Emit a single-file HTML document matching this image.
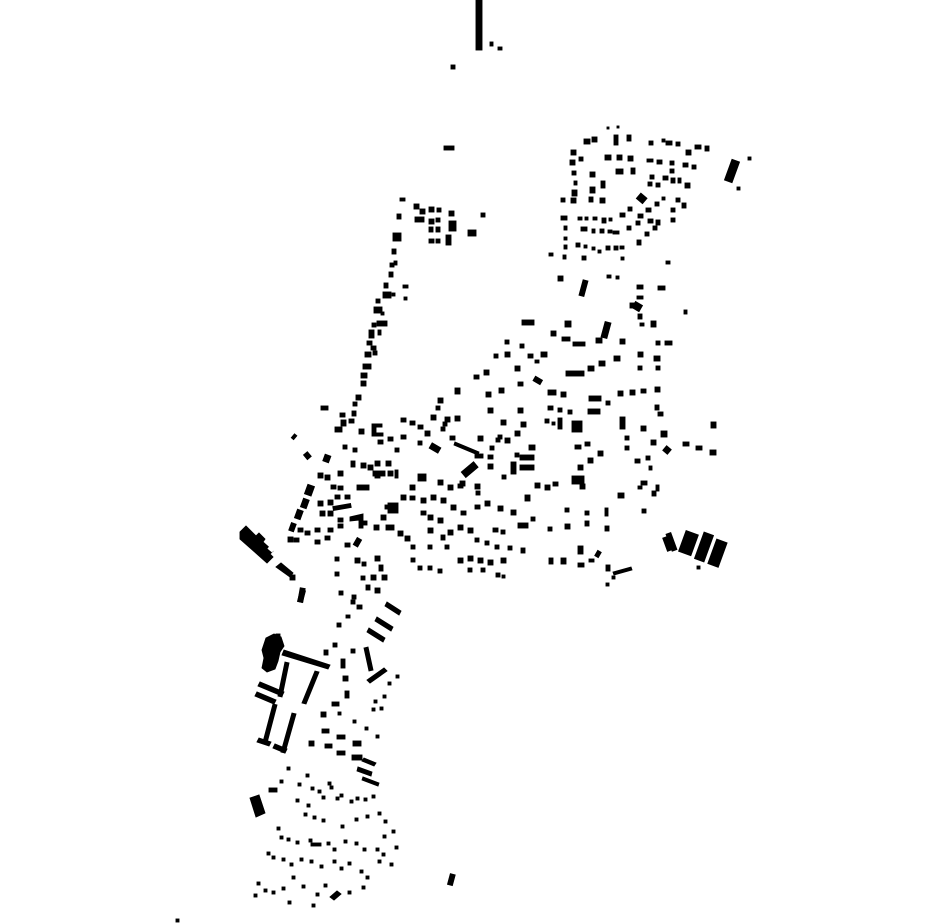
<!DOCTYPE html>
<html><head><meta charset="utf-8"><style>html,body{margin:0;padding:0;background:#fff;width:930px;height:924px;overflow:hidden}svg{display:block}</style></head>
<body>
<svg width="930" height="924" viewBox="0 0 930 924" xmlns="http://www.w3.org/2000/svg">
<g fill="#000" stroke="#000" stroke-width="0.9">
<rect x="476" y="0" width="6" height="50"/>
<rect x="490" y="42" width="3" height="4"/><rect x="498" y="47" width="4" height="3"/>
<rect x="451" y="65" width="4" height="4"/>
<rect x="444" y="146" width="10" height="4"/>
<rect x="481" y="213" width="4" height="4"/>
<rect x="400" y="198" width="5" height="3"/><rect x="397" y="214" width="4" height="5"/>
<rect x="414" y="204" width="5" height="5"/><rect x="420" y="209" width="5" height="5"/><rect x="429" y="207" width="5" height="5"/><rect x="437" y="208" width="4" height="4"/><rect x="449" y="211" width="5" height="5"/>
<rect x="415" y="217" width="9" height="5"/><rect x="429" y="219" width="5" height="5"/><rect x="436" y="218" width="4" height="4"/><rect x="429" y="227" width="4" height="5"/><rect x="436" y="227" width="4" height="5"/><rect x="449" y="221" width="7" height="10"/>
<rect x="429" y="239" width="5" height="4"/><rect x="436" y="239" width="4" height="4"/><rect x="446" y="235" width="5" height="10"/><rect x="468" y="230" width="8" height="6"/>
<rect x="393" y="233" width="8" height="8"/><rect x="392" y="249" width="4" height="5"/><rect x="394" y="261" width="3" height="4"/><rect x="390" y="263" width="4" height="4"/><rect x="389" y="272" width="4" height="5"/><rect x="384" y="283" width="4" height="5"/><rect x="403" y="285" width="5" height="3"/>
<rect x="383" y="292" width="8" height="6"/><rect x="392" y="293" width="3" height="3"/><rect x="404" y="297" width="3" height="3"/><rect x="376" y="299" width="4" height="4"/><rect x="374" y="307" width="8" height="6"/><rect x="381" y="312" width="3" height="3"/>
<rect x="377" y="321" width="10" height="5"/><rect x="372" y="323" width="4" height="4"/><rect x="369" y="330" width="5" height="8"/><rect x="378" y="330" width="3" height="5"/>
<rect x="367" y="341" width="5" height="4"/><rect x="371" y="346" width="5" height="4"/><rect x="365" y="352" width="6" height="5"/><rect x="373" y="351" width="4" height="4"/>
<rect x="363" y="364" width="8" height="5"/><rect x="361" y="373" width="6" height="5"/><rect x="361" y="381" width="5" height="5"/><rect x="356" y="395" width="5" height="5"/><rect x="353" y="402" width="4" height="4"/><rect x="352" y="411" width="4" height="5"/>
<rect x="321" y="406" width="7" height="4"/><rect x="340" y="413" width="5" height="4"/><rect x="341" y="420" width="5" height="6"/><rect x="349" y="419" width="5" height="4"/><rect x="335" y="427" width="7" height="5"/><rect x="359" y="429" width="5" height="5"/>
<path d="M372 424h10v3h-6v6h7v3h-11z"/>
<rect x="293" y="434" width="3" height="5" transform="rotate(40 294 436)"/>
<rect x="584" y="139" width="6" height="5"/><rect x="592" y="137" width="5" height="5"/><rect x="614" y="135" width="4" height="10"/><rect x="627" y="135" width="4" height="6"/><rect x="607" y="127" width="2" height="2"/><rect x="617" y="126" width="2" height="2"/>
<rect x="571" y="150" width="5" height="5"/><rect x="570" y="160" width="5" height="5"/><rect x="579" y="157" width="4" height="4"/><rect x="605" y="155" width="6" height="5"/><rect x="617" y="155" width="5" height="5"/><rect x="628" y="156" width="5" height="5"/>
<rect x="616" y="169" width="7" height="5"/><rect x="631" y="168" width="4" height="6"/><rect x="572" y="171" width="4" height="4"/><rect x="590" y="172" width="5" height="5"/><rect x="574" y="181" width="3" height="4"/><rect x="601" y="181" width="4" height="7"/><rect x="590" y="187" width="5" height="6"/><rect x="572" y="190" width="5" height="6"/>
<rect x="561" y="198" width="4" height="4"/><rect x="571" y="198" width="5" height="5"/><rect x="589" y="197" width="4" height="5"/><rect x="600" y="198" width="5" height="5"/><rect x="638" y="195" width="8" height="7" transform="rotate(40 642 198)"/>
<rect x="628" y="207" width="4" height="4"/><rect x="620" y="213" width="5" height="4"/><rect x="638" y="214" width="5" height="4"/><rect x="646" y="208" width="5" height="4"/><rect x="655" y="202" width="4" height="4"/>
<rect x="627" y="226" width="4" height="4"/><rect x="636" y="221" width="4" height="4"/><rect x="648" y="219" width="5" height="4"/><rect x="656" y="220" width="4" height="5"/><rect x="637" y="240" width="4" height="5"/><rect x="645" y="232" width="4" height="4"/><rect x="653" y="226" width="4" height="4"/>
<rect x="561" y="216" width="6" height="4"/><rect x="578" y="217" width="4" height="3"/><rect x="585" y="217" width="3" height="3"/><rect x="593" y="217" width="4" height="3"/><rect x="602" y="218" width="4" height="5"/><rect x="609" y="218" width="3" height="3"/>
<rect x="564" y="226" width="3" height="4"/><rect x="581" y="227" width="6" height="4"/><rect x="592" y="229" width="3" height="4"/><rect x="600" y="229" width="4" height="4"/><rect x="608" y="230" width="4" height="3"/><rect x="613" y="231" width="6" height="3"/>
<rect x="564" y="237" width="3" height="3"/><rect x="564" y="245" width="3" height="4"/><rect x="576" y="243" width="4" height="4"/><rect x="584" y="245" width="3" height="3"/><rect x="592" y="247" width="3" height="3"/><rect x="598" y="250" width="3" height="3"/><rect x="606" y="246" width="4" height="4"/><rect x="614" y="246" width="4" height="4"/><rect x="620" y="246" width="4" height="3"/>
<rect x="549" y="253" width="4" height="3"/><rect x="563" y="255" width="3" height="4"/><rect x="582" y="256" width="4" height="4"/><rect x="621" y="257" width="3" height="3"/>
<rect x="558" y="276" width="5" height="5"/><rect x="581" y="280" width="5" height="16" transform="rotate(15 583 288)"/><rect x="607" y="275" width="4" height="3"/><rect x="616" y="276" width="3" height="3"/>
<rect x="637" y="285" width="6" height="4"/><rect x="658" y="286" width="7" height="4"/><rect x="637" y="296" width="6" height="3"/><rect x="633" y="303" width="8" height="7" transform="rotate(30 637 307)"/><rect x="638" y="314" width="4" height="5"/><rect x="666" y="261" width="4" height="3"/><rect x="684" y="310" width="3" height="4"/>
<rect x="649" y="141" width="4" height="4"/><rect x="662" y="139" width="3" height="3"/><rect x="666" y="141" width="6" height="4"/><rect x="676" y="142" width="4" height="4"/><rect x="686" y="150" width="5" height="5"/><rect x="695" y="145" width="6" height="4"/><rect x="705" y="146" width="4" height="5"/>
<rect x="647" y="159" width="6" height="3"/><rect x="657" y="160" width="5" height="4"/><rect x="670" y="161" width="4" height="4"/><rect x="683" y="163" width="5" height="4"/><rect x="692" y="165" width="4" height="4"/><rect x="670" y="169" width="4" height="4"/>
<rect x="650" y="175" width="4" height="4"/><rect x="648" y="182" width="4" height="4"/><rect x="656" y="183" width="4" height="4"/><rect x="663" y="176" width="5" height="4"/><rect x="671" y="178" width="4" height="5"/><rect x="678" y="178" width="3" height="5"/><rect x="685" y="183" width="5" height="5"/>
<rect x="676" y="198" width="4" height="4"/><rect x="682" y="203" width="4" height="5"/><rect x="671" y="208" width="4" height="4"/><rect x="671" y="218" width="4" height="4"/><rect x="662" y="197" width="3" height="3"/>
<rect x="728" y="160" width="8" height="22" transform="rotate(20 732 171)"/><rect x="737" y="187" width="3" height="3"/><rect x="748" y="157" width="3" height="3"/>
<g>
<rect x="630" y="303" width="6" height="5"/><rect x="522" y="320" width="12" height="5"/><rect x="565" y="321" width="6" height="6"/><rect x="603" y="322" width="6" height="16" transform="rotate(15 606 330)"/><rect x="651" y="321" width="5" height="6"/><rect x="640" y="323" width="4" height="3"/>
<rect x="551" y="331" width="5" height="5"/><rect x="562" y="337" width="8" height="4"/><rect x="573" y="342" width="12" height="4"/><rect x="596" y="338" width="6" height="5"/><rect x="620" y="339" width="5" height="5"/><rect x="665" y="341" width="7" height="4"/><rect x="656" y="341" width="4" height="4"/>
<rect x="505" y="340" width="4" height="4"/><rect x="520" y="344" width="4" height="4"/><rect x="505" y="352" width="5" height="5"/><rect x="528" y="354" width="5" height="4"/><rect x="541" y="352" width="6" height="5"/><rect x="494" y="354" width="4" height="4"/><rect x="535" y="360" width="4" height="3"/>
<rect x="566" y="371" width="18" height="5"/><rect x="588" y="366" width="6" height="5"/><rect x="599" y="361" width="6" height="5"/><rect x="614" y="356" width="6" height="5"/><rect x="638" y="352" width="5" height="5"/><rect x="654" y="356" width="6" height="5"/><rect x="656" y="366" width="4" height="4"/><rect x="638" y="366" width="4" height="4"/>
<rect x="515" y="366" width="5" height="5"/><rect x="484" y="370" width="5" height="5"/><rect x="474" y="375" width="5" height="4"/><rect x="455" y="388" width="5" height="6"/><rect x="486" y="392" width="5" height="5"/><rect x="499" y="388" width="5" height="5"/><rect x="518" y="382" width="5" height="4"/><rect x="534" y="378" width="8" height="5" transform="rotate(30 538 380)"/>
<rect x="548" y="390" width="8" height="5"/><rect x="561" y="392" width="5" height="5"/><rect x="589" y="396" width="12" height="5"/><rect x="588" y="409" width="12" height="5"/><rect x="606" y="401" width="4" height="4"/><rect x="618" y="391" width="5" height="5"/><rect x="630" y="390" width="5" height="5"/><rect x="641" y="389" width="5" height="4"/><rect x="655" y="387" width="5" height="5"/><rect x="655" y="405" width="4" height="5"/><rect x="658" y="412" width="5" height="4"/>
<rect x="620" y="417" width="5" height="12"/><rect x="641" y="426" width="5" height="5"/><rect x="661" y="431" width="6" height="6"/><rect x="711" y="422" width="5" height="6"/><rect x="683" y="442" width="6" height="4"/><rect x="696" y="446" width="6" height="4"/><rect x="710" y="450" width="6" height="5"/><rect x="651" y="440" width="5" height="5"/><rect x="664" y="447" width="6" height="6" transform="rotate(40 667 450)"/>
<rect x="625" y="436" width="4" height="4"/><rect x="625" y="446" width="4" height="4"/><rect x="635" y="459" width="5" height="4"/><rect x="646" y="456" width="4" height="4"/><rect x="649" y="466" width="3" height="4"/><rect x="641" y="481" width="6" height="4"/><rect x="652" y="491" width="4" height="5"/><rect x="642" y="509" width="4" height="4"/><rect x="618" y="493" width="6" height="5"/><rect x="638" y="486" width="4" height="3"/><rect x="656" y="485" width="3" height="6"/>
<rect x="548" y="406" width="5" height="4"/><rect x="558" y="408" width="4" height="4"/><rect x="568" y="410" width="4" height="4"/><rect x="545" y="419" width="4" height="4"/><rect x="558" y="418" width="4" height="11"/><rect x="572" y="421" width="10" height="11"/><rect x="552" y="422" width="3" height="3"/>
<rect x="488" y="408" width="5" height="5"/><rect x="501" y="420" width="5" height="5"/><rect x="518" y="408" width="5" height="5"/><rect x="521" y="422" width="5" height="5"/><rect x="505" y="438" width="5" height="5"/><rect x="515" y="431" width="5" height="5"/><rect x="478" y="436" width="5" height="5"/><rect x="490" y="446" width="4" height="4"/><rect x="496" y="438" width="4" height="4"/>
<rect x="438" y="398" width="5" height="5"/><rect x="436" y="406" width="4" height="4"/><rect x="431" y="415" width="5" height="5"/><rect x="445" y="417" width="5" height="5"/><rect x="455" y="416" width="5" height="5"/><rect x="443" y="422" width="4" height="4"/><rect x="441" y="427" width="4" height="4"/><rect x="450" y="436" width="5" height="4"/>
<path d="M455 442l24 10-1 3-24-10z"/><rect x="475" y="454" width="8" height="4"/><rect x="488" y="455" width="5" height="4"/><rect x="430" y="445" width="10" height="6" transform="rotate(30 435 448)"/>
<rect x="401" y="418" width="5" height="4"/><rect x="410" y="421" width="5" height="4"/><rect x="418" y="425" width="5" height="4"/><rect x="425" y="431" width="5" height="5"/><rect x="401" y="435" width="5" height="4"/><rect x="388" y="437" width="5" height="4"/><rect x="378" y="440" width="5" height="4"/><rect x="395" y="448" width="4" height="4"/><rect x="418" y="441" width="4" height="4"/>
<rect x="529" y="445" width="6" height="5"/><rect x="520" y="455" width="14" height="5"/><rect x="520" y="465" width="14" height="5"/><rect x="511" y="462" width="5" height="12"/><rect x="515" y="453" width="4" height="4"/><rect x="498" y="435" width="4" height="4"/><rect x="488" y="464" width="5" height="5"/><rect x="502" y="475" width="4" height="4"/>
<rect x="462" y="466" width="16" height="7" transform="rotate(-40 470 470)"/><rect x="460" y="481" width="5" height="5"/><rect x="438" y="480" width="5" height="5"/><rect x="448" y="485" width="5" height="5"/><rect x="458" y="484" width="5" height="4"/><rect x="475" y="484" width="5" height="5"/><rect x="476" y="491" width="4" height="4"/>
<rect x="418" y="474" width="8" height="7"/><rect x="410" y="485" width="5" height="5"/><rect x="421" y="498" width="5" height="5"/><rect x="410" y="496" width="5" height="4"/><rect x="401" y="495" width="5" height="5"/><rect x="388" y="503" width="10" height="10"/><rect x="421" y="511" width="5" height="4"/><rect x="431" y="495" width="5" height="5"/><rect x="441" y="498" width="5" height="5"/><rect x="451" y="505" width="5" height="5"/><rect x="461" y="511" width="5" height="4"/><rect x="475" y="505" width="5" height="4"/><rect x="485" y="501" width="5" height="5"/><rect x="498" y="506" width="5" height="5"/><rect x="511" y="510" width="5" height="5"/><rect x="525" y="495" width="5" height="6"/><rect x="535" y="483" width="5" height="5"/><rect x="545" y="485" width="5" height="5"/><rect x="553" y="482" width="5" height="4"/>
<rect x="572" y="476" width="12" height="8"/><rect x="580" y="484" width="5" height="5"/><rect x="578" y="465" width="5" height="5"/><rect x="588" y="458" width="5" height="5"/><rect x="598" y="451" width="5" height="5"/><rect x="575" y="445" width="6" height="4"/><rect x="585" y="442" width="5" height="4"/><rect x="565" y="508" width="4" height="4"/><rect x="585" y="511" width="4" height="4"/><rect x="605" y="508" width="3" height="8"/>
<rect x="518" y="523" width="10" height="5"/><rect x="531" y="517" width="4" height="4"/><rect x="548" y="527" width="4" height="4"/><rect x="565" y="524" width="5" height="5"/><rect x="585" y="521" width="4" height="5"/><rect x="605" y="526" width="4" height="5"/><rect x="578" y="546" width="5" height="8"/><rect x="596" y="551" width="4" height="6" transform="rotate(30 598 554)"/><rect x="589" y="559" width="5" height="3"/><rect x="549" y="558" width="4" height="6"/><rect x="561" y="558" width="5" height="6"/><rect x="578" y="563" width="6" height="4"/>
<rect x="606" y="565" width="4" height="6"/><path d="M613 572l18-5 1 3-18 5z"/><rect x="612" y="576" width="3" height="3"/><rect x="606" y="583" width="3" height="3"/>
<rect x="493" y="528" width="5" height="4"/><rect x="501" y="530" width="4" height="4"/><rect x="485" y="541" width="4" height="4"/><rect x="495" y="545" width="4" height="4"/><rect x="508" y="546" width="4" height="4"/><rect x="521" y="548" width="4" height="5"/>
<rect x="458" y="558" width="5" height="5"/><rect x="468" y="556" width="5" height="5"/><rect x="478" y="558" width="5" height="5"/><rect x="488" y="560" width="5" height="5"/><rect x="501" y="558" width="5" height="5"/><rect x="468" y="568" width="4" height="4"/><rect x="481" y="568" width="4" height="4"/><rect x="496" y="573" width="4" height="4"/><rect x="502" y="575" width="3" height="3"/>
<rect x="428" y="515" width="5" height="5"/><rect x="438" y="518" width="5" height="5"/><rect x="428" y="528" width="5" height="5"/><rect x="441" y="535" width="4" height="5"/><rect x="448" y="530" width="5" height="5"/><rect x="458" y="525" width="5" height="5"/><rect x="468" y="528" width="5" height="5"/><rect x="475" y="538" width="4" height="4"/><rect x="445" y="545" width="4" height="4"/><rect x="428" y="545" width="4" height="4"/>
<rect x="398" y="531" width="5" height="5"/><rect x="405" y="536" width="5" height="5"/><rect x="411" y="545" width="4" height="4"/><rect x="386" y="525" width="8" height="5"/><rect x="374" y="525" width="5" height="5"/><rect x="381" y="515" width="5" height="5"/><rect x="385" y="505" width="4" height="4"/><rect x="411" y="558" width="4" height="4"/><rect x="418" y="566" width="4" height="4"/><rect x="428" y="566" width="4" height="4"/><rect x="438" y="569" width="4" height="4"/>
<rect x="355" y="558" width="5" height="5"/><rect x="362" y="562" width="4" height="4"/><rect x="375" y="556" width="5" height="5"/><rect x="379" y="565" width="4" height="6"/><rect x="382" y="575" width="5" height="5"/><rect x="371" y="575" width="5" height="5"/><rect x="361" y="576" width="4" height="4"/><rect x="366" y="585" width="4" height="5"/><rect x="375" y="588" width="5" height="5"/><rect x="339" y="591" width="4" height="4"/><rect x="352" y="595" width="4" height="4"/><rect x="335" y="572" width="4" height="4"/><rect x="335" y="557" width="4" height="4"/>
<rect x="355" y="538" width="5" height="8" transform="rotate(30 357 542)"/><rect x="345" y="543" width="5" height="4"/><rect x="325" y="536" width="5" height="4"/><rect x="315" y="540" width="5" height="4"/><rect x="305" y="531" width="5" height="4"/><rect x="298" y="528" width="5" height="4"/><rect x="294" y="538" width="5" height="4"/><rect x="315" y="528" width="5" height="4"/><rect x="328" y="528" width="5" height="4"/><rect x="338" y="524" width="5" height="4"/>
<path d="M350 517l13-3v14h-4v-8l-9 1z"/><rect x="363" y="521" width="4" height="4"/><rect x="338" y="518" width="5" height="4"/><rect x="328" y="511" width="5" height="5"/><rect x="320" y="511" width="5" height="5"/><rect x="318" y="501" width="5" height="5"/><rect x="328" y="500" width="5" height="5"/><rect x="335" y="495" width="5" height="4"/><rect x="345" y="495" width="5" height="4"/><rect x="357" y="485" width="12" height="5"/><rect x="338" y="486" width="5" height="4"/><rect x="331" y="485" width="5" height="4"/>
<rect x="338" y="471" width="5" height="5"/><rect x="325" y="475" width="5" height="5"/><rect x="318" y="473" width="5" height="5"/><rect x="306" y="485" width="7" height="10" transform="rotate(20 309 490)"/><rect x="302" y="499" width="6" height="9" transform="rotate(20 305 503)"/><rect x="296" y="510" width="6" height="9" transform="rotate(20 299 514)"/><rect x="290" y="523" width="5" height="8" transform="rotate(20 292 527)"/><rect x="288" y="537" width="5" height="5"/>
<rect x="324" y="455" width="6" height="7" transform="rotate(20 327 458)"/><rect x="305" y="453" width="5" height="6" transform="rotate(-40 307 456)"/><rect x="361" y="463" width="5" height="5"/><rect x="368" y="465" width="5" height="5"/><rect x="375" y="473" width="5" height="5"/><rect x="386" y="461" width="5" height="5"/><rect x="388" y="471" width="5" height="5"/><rect x="375" y="461" width="5" height="5"/><rect x="351" y="461" width="4" height="6"/>
<rect x="373" y="471" width="12" height="5"/><rect x="343" y="445" width="4" height="4"/><rect x="353" y="448" width="4" height="4"/>
<rect x="333" y="505" width="18" height="4" transform="rotate(-10 342 507)"/><rect x="395" y="470" width="3" height="8"/>
</g>
<path d="M240 532l6-6 10 10 3-3 6 6-2 3 10 9-3 3 3 3-6 6-27-24z"/><rect x="268" y="547" width="6" height="4" fill="#fff" stroke="none" transform="rotate(40 271 549)"/>
<path d="M276 567l5-4 12 10-3 4z"/><rect x="290" y="575" width="5" height="5"/><rect x="299" y="588" width="5" height="14" transform="rotate(10 301 595)"/>
<rect x="665" y="537" width="5" height="14" transform="rotate(-20 667 544)"/><rect x="669" y="533" width="5" height="18" transform="rotate(-20 671 542)"/>
<rect x="682" y="532" width="13" height="22" transform="rotate(20 688 543)"/><rect x="699" y="533" width="10" height="28" transform="rotate(20 704 547)"/><rect x="712" y="540" width="11" height="26" transform="rotate(20 717 553)"/><rect x="697" y="566" width="3" height="3"/>
<rect x="299" y="590" width="5" height="12" transform="rotate(15 301 596)"/>
<path d="M385 606l2-4 14 9-2 4z"/><path d="M375 621l2-4 16 10-2 4z"/><path d="M367 632l2-4 16 10-2 4z"/><path d="M364 648l4-1 5 23-4 1z"/><path d="M370 683l-3-3 17-12 3 3z"/>
<path d="M266 638l8-4 7 3 3 9 -4 6 -2 9 -3 8-8 3-5-4 2-10-2-8z"/><path d="M282 655l2-5 46 15-2 4z"/><rect x="276" y="634" width="4" height="3"/>
<path d="M285 662l4 1-7 34-4-1z"/><path d="M315 671l4 1-13 32-4-1z"/><path d="M258 686l2-4 24 10-2 4z"/>
<path d="M255 696l2-4 19 8-2 4z"/><path d="M273 704l4 1-10 38-4-1z"/><path d="M257 742l2-4 12 4-2 4z"/>
<path d="M292 713l4 1-11 39-4-1z"/><path d="M273 748l2-4 12 5-2 4z"/>
<rect x="337" y="623" width="4" height="4"/><rect x="324" y="650" width="4" height="5"/><rect x="333" y="643" width="4" height="4"/><rect x="351" y="649" width="4" height="4"/><rect x="346" y="615" width="4" height="3"/><rect x="351" y="600" width="4" height="4"/><rect x="357" y="605" width="5" height="4"/>
<rect x="341" y="659" width="4" height="9"/><rect x="343" y="676" width="5" height="5"/><rect x="345" y="691" width="4" height="7"/><rect x="332" y="702" width="7" height="4"/><rect x="321" y="712" width="5" height="5"/><rect x="322" y="729" width="7" height="4"/><rect x="337" y="735" width="8" height="4"/><rect x="309" y="741" width="5" height="5"/><rect x="325" y="744" width="7" height="4"/><rect x="337" y="751" width="8" height="4"/><rect x="353" y="741" width="8" height="5"/><rect x="352" y="755" width="10" height="5"/>
<path d="M362 761l2-3 12 5-2 3z"/><path d="M357 771l1-4 14 5-1 4z"/><path d="M362 780l1-3 16 6-1 3z"/>
<rect x="269" y="788" width="8" height="4"/><path d="M250 798l9-3 6 18-9 4z"/>
<rect x="338" y="712" width="3" height="3"/><rect x="353" y="720" width="3" height="3"/><rect x="365" y="727" width="3" height="3"/><rect x="376" y="735" width="3" height="3"/><rect x="372" y="708" width="3" height="3"/><rect x="383" y="695" width="3" height="3"/><rect x="380" y="707" width="3" height="3"/><rect x="388" y="682" width="3" height="3"/><rect x="396" y="675" width="3" height="3"/><rect x="374" y="700" width="3" height="3"/>
<rect x="287" y="767" width="3" height="3"/><rect x="280" y="780" width="3" height="3"/><rect x="306" y="774" width="3" height="3"/><rect x="298" y="783" width="3" height="3"/><rect x="311" y="787" width="3" height="3"/><rect x="318" y="790" width="3" height="3"/><rect x="330" y="786" width="3" height="3"/><rect x="336" y="797" width="3" height="3"/><rect x="340" y="794" width="3" height="3"/><rect x="350" y="800" width="3" height="3"/><rect x="356" y="797" width="3" height="3"/><rect x="364" y="798" width="3" height="3"/><rect x="372" y="795" width="3" height="3"/><rect x="328" y="782" width="3" height="3"/><rect x="296" y="799" width="3" height="3"/><rect x="307" y="804" width="3" height="3"/><rect x="322" y="796" width="3" height="3"/>
<rect x="304" y="813" width="3" height="3"/><rect x="313" y="816" width="3" height="3"/><rect x="322" y="819" width="3" height="3"/><rect x="355" y="818" width="3" height="3"/><rect x="366" y="815" width="3" height="3"/><rect x="378" y="812" width="3" height="3"/><rect x="384" y="820" width="3" height="3"/><rect x="341" y="825" width="3" height="3"/><rect x="383" y="835" width="3" height="3"/><rect x="392" y="830" width="3" height="3"/>
<rect x="277" y="827" width="3" height="3"/><rect x="280" y="836" width="3" height="3"/><rect x="287" y="838" width="3" height="3"/><rect x="296" y="841" width="3" height="3"/><rect x="309" y="839" width="3" height="3"/><rect x="311" y="843" width="10" height="3"/><rect x="327" y="842" width="3" height="3"/><rect x="333" y="848" width="3" height="3"/><rect x="344" y="840" width="3" height="3"/><rect x="355" y="842" width="3" height="3"/><rect x="363" y="848" width="3" height="3"/><rect x="376" y="848" width="3" height="3"/><rect x="382" y="853" width="3" height="3"/><rect x="395" y="846" width="3" height="3"/>
<rect x="267" y="852" width="3" height="3"/><rect x="272" y="856" width="3" height="3"/><rect x="282" y="858" width="3" height="3"/><rect x="290" y="863" width="3" height="3"/><rect x="300" y="858" width="3" height="3"/><rect x="310" y="860" width="3" height="3"/><rect x="320" y="865" width="3" height="3"/><rect x="333" y="860" width="3" height="3"/><rect x="340" y="867" width="3" height="3"/><rect x="348" y="862" width="3" height="3"/><rect x="360" y="870" width="3" height="3"/><rect x="366" y="876" width="3" height="3"/><rect x="378" y="860" width="3" height="3"/><rect x="390" y="863" width="3" height="3"/>
<rect x="257" y="882" width="3" height="3"/><rect x="264" y="889" width="3" height="3"/><rect x="272" y="891" width="3" height="3"/><rect x="282" y="887" width="3" height="3"/><rect x="292" y="876" width="3" height="3"/><rect x="302" y="885" width="3" height="3"/><rect x="316" y="893" width="3" height="3"/><rect x="324" y="884" width="3" height="3"/><rect x="348" y="891" width="3" height="3"/><rect x="362" y="886" width="3" height="3"/><rect x="312" y="904" width="3" height="3"/><rect x="288" y="901" width="3" height="3"/><rect x="254" y="894" width="3" height="3"/>
<path d="M330 897l7-6 4 3-7 6z"/><rect x="449" y="874" width="5" height="11" transform="rotate(15 451 879)"/><rect x="176" y="919" width="3" height="3"/>
</g>
</svg>
</body></html>
